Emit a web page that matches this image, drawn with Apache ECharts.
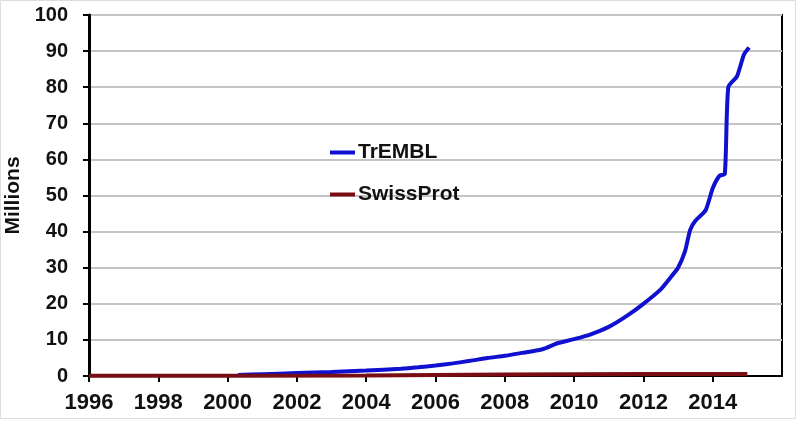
<!DOCTYPE html>
<html lang="en">
<head>
    <meta charset="UTF-8">
    <title>TrEMBL vs SwissProt</title>
    <script type="text/javascript" src="https://cdn.jsdelivr.net/npm/echarts@6/dist/echarts.min.js"></script>
</head>
<body style="margin:0;background:#fff;">

    <div id="chart" style="width:800px;height:421px;"></div>

<script type="text/javascript">
    // TrEMBL entries (millions)
    var tremblYears = [2000.3, 2001, 2002, 2003, 2004, 2005, 2005.5, 2006, 2006.5, 2007, 2007.5, 2008, 2008.5, 2009, 2009.2, 2009.5,
        2010, 2010.5, 2011, 2011.5, 2012, 2012.5, 2012.8, 2013, 2013.2, 2013.35, 2013.5, 2013.8, 2014, 2014.2, 2014.35, 2014.45,
        2014.7, 2014.9, 2015.05];
    var tremblValues = [0.3, 0.5, 0.8, 1.1, 1.5, 2.0, 2.4, 2.9, 3.5, 4.2, 5.0, 5.6, 6.4, 7.2, 7.8, 9.0,
        10.2, 11.6, 13.6, 16.5, 20, 24, 27.5, 30, 34.5, 40.5, 43, 46, 52, 55.5, 56, 80,
        83, 89, 91];

    // SwissProt entries (millions)
    var swissYears = [1996, 2000, 2004, 2008, 2012, 2015];
    var swissValues = [0.06, 0.1, 0.15, 0.4, 0.54, 0.55];

    function pairs(xs, ys) {
        var out = [];
        for (var i = 0; i < xs.length; i++) out.push([xs[i], ys[i]]);
        return out;
    }

    var font = '"Liberation Sans", Arial, sans-serif';
    var myChart = echarts.init(document.getElementById("chart"));

    var option = {
        animation: false,
        backgroundColor: '#fff',
        graphic: [{
            type: 'rect',
            shape: {x: 0.5, y: 0.5, width: 795, height: 418},
            style: {fill: 'none', stroke: '#dddddd', lineWidth: 1},
            silent: true
        }],
        legend: {
            orient: 'vertical',
            left: 325,
            top: 137,
            itemGap: 21,
            itemWidth: 25,
            itemHeight: 4,
            icon: 'rect',
            textStyle: {fontFamily: font, fontWeight: 'bold', fontSize: 21, color: '#111', padding: [0, 0, 0, -2]},
            data: ['TrEMBL', 'SwissProt']
        },
        grid: {
            left: 89, right: 18, top: 15, bottom: 45,
            outerBoundsMode: 'none',
            containLabel: false,
            show: true,
            borderColor: '#000',
            borderWidth: 2
        },
        xAxis: {
            type: 'value',
            min: 1996,
            max: 2016,
            interval: 2,
            axisLine: {show: true, onZero: false, lineStyle: {color: '#000', width: 2}},
            axisTick: {show: true, length: 6, lineStyle: {color: '#000', width: 2}},
            axisLabel: {
                showMaxLabel: false,
                formatter: function (v) { return String(v); },
                fontFamily: font, fontWeight: 'bold', fontSize: 22, color: '#111', margin: 16
            },
            splitLine: {show: false}
        },
        yAxis: {
            type: 'value',
            min: 0,
            max: 100,
            interval: 10,
            name: 'Millions',
            nameLocation: 'middle',
            nameGap: 58,
            nameTextStyle: {fontFamily: font, fontWeight: 'bold', fontSize: 21, color: '#111'},
            axisLine: {show: true, lineStyle: {color: '#000', width: 3}},
            axisTick: {show: true, length: 6, lineStyle: {color: '#000', width: 2}},
            axisLabel: {fontFamily: font, fontWeight: 'bold', fontSize: 20, color: '#111', margin: 21},
            splitLine: {show: true, lineStyle: {color: '#c4c4c4', width: 2}}
        },
        series: [
            {
                name: 'TrEMBL',
                type: 'line',
                showSymbol: false,
                smooth: 0.2,
                color: '#1010d0',
                lineStyle: {width: 4},
                data: pairs(tremblYears, tremblValues)
            },
            {
                name: 'SwissProt',
                type: 'line',
                showSymbol: false,
                color: '#7a0c14',
                lineStyle: {width: 4},
                data: pairs(swissYears, swissValues)
            }
        ]
    };

    myChart.setOption(option, true);
</script>

</body>
</html>
